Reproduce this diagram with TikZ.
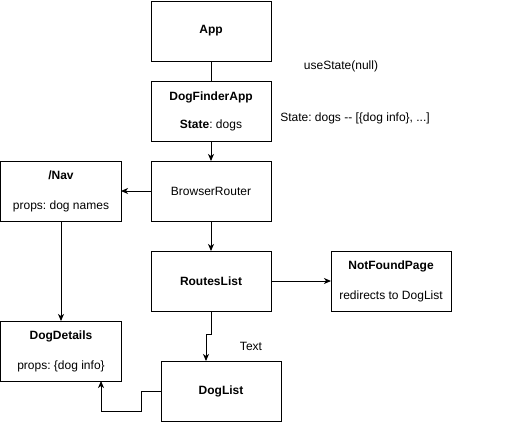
\documentclass[tikz,border=0pt]{standalone}
\usepackage{fontspec}
\setmainfont{Liberation Sans}
\usepackage{tikz}
\usetikzlibrary{positioning,calc}
\usetikzlibrary{arrows.meta}
\tikzstyle{arrow} = [line width=1pt,-{Stealth[length=7pt,width=6pt,inset=2pt]}]
\frenchspacing

\begin{document}
\begin{tikzpicture}[x=1pt,y=-1pt,
	component/.style={rectangle, draw, line width=1pt, outer sep=0pt, minimum width=120pt, minimum height=60pt, align=center, font=\fontsize{12pt}{14pt}\selectfont},
	note/.style={font=\fontsize{12pt}{14pt}\selectfont, inner sep=0pt},
	node distance=20pt]
	\useasboundingbox (-1,-1) rectangle (510,420);
	
	% COMPONENTS
	
	\node [component] (app) at (210,30) {\textbf{App}};
	
	\node [component, below=20pt of app] (dogfinder)
	{\textbf{DogFinderApp}\\[14pt]\textbf{State}: dogs};
	
	\node [component, below=20pt of dogfinder] (router) {BrowserRouter};
	
	\node [component, left=30pt of router] (nav)
	{\textbf{/Nav}\\[16pt]props: dog names};
	
	\node [component, below=30pt of router] (routes) {\textbf{RoutesList}};
	
	\node [component, right=60pt of routes] (notfound)
	{\textbf{NotFoundPage}\\[16pt]redirects to DogList};
	
	\node [component, below=100pt of nav] (dogdetails)
	{\textbf{DogDetails}\\[16pt]props: \{dog info\}};
	
	\node [component] (doglist) at (220,390) {\textbf{DogList}};
	
	% NOTES
	
	\node [note] (usestate) at (340,65) {useState(null)};
	\node [note] (statenote) at (354,117) {State: dogs -{}- [\{dog info\}, ...]};
	\node [note] (textnote) at (250,345) {Text};
	
	% LINKS
	
	\draw [line width=1pt] (app) -- (dogfinder);
	\draw [arrow] (dogfinder) -- (router);
	\draw [arrow] (router) -- (nav);
	\draw [arrow] (nav) -- (dogdetails);
	\draw [arrow] (router) -- (routes);
	\draw [arrow] (routes) -- (notfound);
	\draw [arrow] (routes.south) -- ++(0,23) -| ([xshift=-15pt]doglist.north);
	\draw [arrow] (doglist.west) -- ++(-20,0) -- ++(0,20) -| ([xshift=40pt]dogdetails.south);
	
\end{tikzpicture}
\end{document}
